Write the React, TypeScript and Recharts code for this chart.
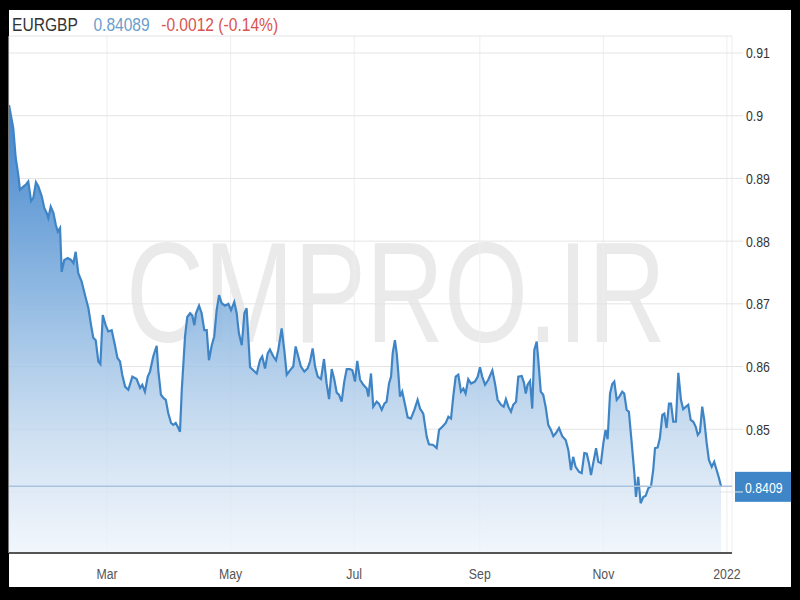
import React from "react";
import { ComposedChart, Area, XAxis, YAxis, CartesianGrid, ReferenceLine } from "recharts";

// Days since 2021-01-01
const dayOfYear = [
  10.6, 12.7, 13.9, 15.2, 16.0, 17.7, 18.9, 20.1, 21.5, 22.6,
  23.9, 25.1, 26.8, 28.0, 29.2, 30.0, 31.2, 32.5, 33.7, 34.7,
  35.8, 36.6, 37.9, 39.6, 41.2, 42.4, 43.5, 44.8, 46.5, 48.1,
  49.8, 51.1, 52.2, 53.4, 54.7, 55.7, 56.9, 58.3, 59.6, 61.3,
  62.9, 64.1, 65.4, 66.5, 67.9, 69.5, 71.5, 73.6, 75.3, 76.4,
  77.7, 79.1, 80.2, 81.8, 83.5, 84.3, 85.6, 86.8, 88.0, 89.2,
  90.6, 91.7, 92.9, 94.2, 95.0, 95.9, 97.5, 98.6, 100.0, 101.1,
  102.1, 102.9, 104.4, 105.7, 107.0, 108.2, 109.3, 110.7, 111.9, 113.1,
  114.3, 115.6, 117.2, 118.9, 120.2, 121.8, 123.0, 124.1, 125.5, 126.8,
  127.9, 129.6, 131.2, 132.9, 134.5, 135.6, 137.0, 138.3, 139.4, 141.1,
  142.4, 143.5, 145.2, 146.5, 147.7, 149.3, 150.9, 152.1, 153.4, 154.7,
  156.4, 158.0, 159.2, 160.5, 161.7, 163.0, 164.6, 166.1, 167.4, 168.6,
  169.9, 171.2, 172.4, 173.5, 174.8, 176.1, 177.3, 178.9, 180.1, 181.4,
  182.5, 183.9, 185.5, 187.2, 188.0, 189.3, 190.4, 192.1, 193.2, 194.6,
  195.9, 197.0, 198.2, 199.2, 200.0, 201.1, 202.0, 202.8, 203.6, 204.7,
  206.1, 207.4, 209.0, 210.7, 212.3, 213.5, 215.1, 216.8, 217.9, 220.0,
  221.7, 222.9, 224.5, 226.2, 227.5, 228.8, 229.9, 231.1, 232.4, 233.7,
  234.9, 236.0, 237.3, 238.7, 240.6, 242.0, 243.1, 244.2, 245.6, 247.2,
  249.2, 250.5, 251.8, 253.5, 254.8, 255.9, 257.1, 258.4, 259.5, 260.9,
  262.0, 263.7, 264.8, 265.7, 266.6, 267.8, 268.9, 269.9, 271.1, 271.9,
  273.1, 274.3, 275.5, 276.8, 278.1, 279.3, 280.6, 282.1, 283.7, 285.4,
  286.7, 288.0, 289.1, 290.3, 292.0, 293.3, 294.6, 295.8, 296.9, 297.9,
  299.0, 300.4, 301.5, 302.8, 304.0, 305.1, 306.1, 307.3, 308.4, 309.4,
  310.6, 311.9, 313.3, 314.3, 315.5, 316.6, 318.0, 319.3, 320.1, 321.2,
  322.4, 323.7, 324.9, 326.2, 327.5, 328.6, 329.5, 330.8, 331.9, 333.1,
  334.1, 335.2, 336.4, 337.4, 338.5, 339.8, 341.0, 342.3, 343.4, 344.8,
  345.9, 347.1, 348.4, 349.6, 350.6, 351.7, 352.8, 353.8, 355.0, 356.1,
  357.5, 358.7, 359.9, 361.1, 362.1,
];

const eurgbpRate = [
  0.9017, 0.8980, 0.8933, 0.8905, 0.8882, 0.8887, 0.8890, 0.8895, 0.8864, 0.8869,
  0.8894, 0.8887, 0.8871, 0.8853, 0.8845, 0.8837, 0.8855, 0.8845, 0.8826, 0.8815,
  0.8821, 0.8751, 0.8770, 0.8773, 0.8770, 0.8765, 0.8783, 0.8749, 0.8735, 0.8714,
  0.8693, 0.8666, 0.8646, 0.8642, 0.8608, 0.8604, 0.8682, 0.8666, 0.8656, 0.8658,
  0.8634, 0.8614, 0.8608, 0.8587, 0.8568, 0.8563, 0.8584, 0.8580, 0.8566, 0.8571,
  0.8560, 0.8584, 0.8592, 0.8616, 0.8633, 0.8594, 0.8555, 0.8550, 0.8547, 0.8526,
  0.8510, 0.8507, 0.8510, 0.8502, 0.8496, 0.8563, 0.8648, 0.8679, 0.8685, 0.8681,
  0.8666, 0.8685, 0.8697, 0.8685, 0.8658, 0.8658, 0.8610, 0.8634, 0.8648, 0.8690,
  0.8714, 0.8701, 0.8697, 0.8700, 0.8690, 0.8703, 0.8685, 0.8653, 0.8634, 0.8685,
  0.8693, 0.8599, 0.8594, 0.8589, 0.8610, 0.8616, 0.8597, 0.8621, 0.8627, 0.8616,
  0.8610, 0.8626, 0.8661, 0.8626, 0.8587, 0.8594, 0.8600, 0.8632, 0.8616, 0.8600,
  0.8592, 0.8597, 0.8608, 0.8629, 0.8600, 0.8584, 0.8580, 0.8612, 0.8573, 0.8548,
  0.8596, 0.8579, 0.8558, 0.8555, 0.8544, 0.8576, 0.8596, 0.8596, 0.8594, 0.8576,
  0.8609, 0.8579, 0.8571, 0.8565, 0.8552, 0.8589, 0.8536, 0.8544, 0.8541, 0.8531,
  0.8541, 0.8544, 0.8573, 0.8584, 0.8621, 0.8642, 0.8621, 0.8589, 0.8552, 0.8560,
  0.8539, 0.8519, 0.8517, 0.8531, 0.8547, 0.8533, 0.8525, 0.8488, 0.8476, 0.8475,
  0.8470, 0.8499, 0.8504, 0.8510, 0.8520, 0.8517, 0.8552, 0.8584, 0.8587, 0.8560,
  0.8565, 0.8557, 0.8580, 0.8573, 0.8576, 0.8584, 0.8599, 0.8584, 0.8571, 0.8579,
  0.8594, 0.8573, 0.8547, 0.8539, 0.8536, 0.8548, 0.8536, 0.8528, 0.8539, 0.8544,
  0.8584, 0.8585, 0.8574, 0.8557, 0.8571, 0.8577, 0.8533, 0.8626, 0.8640, 0.8610,
  0.8560, 0.8555, 0.8536, 0.8507, 0.8499, 0.8489, 0.8494, 0.8502, 0.8489, 0.8483,
  0.8467, 0.8435, 0.8456, 0.8440, 0.8432, 0.8430, 0.8462, 0.8461, 0.8446, 0.8427,
  0.8446, 0.8470, 0.8448, 0.8446, 0.8478, 0.8499, 0.8484, 0.8557, 0.8572, 0.8576,
  0.8547, 0.8552, 0.8560, 0.8557, 0.8531, 0.8528, 0.8478, 0.8430, 0.8392, 0.8424,
  0.8382, 0.8392, 0.8394, 0.8406, 0.8409, 0.8435, 0.8470, 0.8471, 0.8486, 0.8523,
  0.8525, 0.8502, 0.8541, 0.8541, 0.8512, 0.8512, 0.8590, 0.8547, 0.8532, 0.8536,
  0.8539, 0.8515, 0.8512, 0.8504, 0.8491, 0.8496, 0.8536, 0.8515, 0.8478, 0.8451,
  0.8440, 0.8448, 0.8435, 0.8422, 0.8409,
];

const monthTickDays = [59, 120, 181, 243, 304, 365];
const monthTickLabels = ["Mar", "May", "Jul", "Sep", "Nov", "2022"];
const rateTicks = [0.84, 0.85, 0.86, 0.87, 0.88, 0.89, 0.9, 0.91];
const hiddenRateLabels = [0.84];

const symbolName = "EURGBP";
const lastQuote = "0.84089";
const changeText = "-0.0012 (-0.14%)";
const lastPrice = 0.8409;
const watermarkText = "CMPRO.IR";

const data = dayOfYear.map((d, i) => ({ day: d, rate: eurgbpRate[i] }));

const FONT = '"Liberation Sans", Arial, sans-serif';
const SQUEEZE = 0.82;

const MonthTick = (props: any) => {
  const { x, y, payload } = props;
  const label = monthTickLabels[monthTickDays.indexOf(payload.value)] ?? "";
  return (
    <text
      transform={`translate(${x},${y}) scale(${SQUEEZE},1)`}
      textAnchor="middle"
      dy="0.71em"
      fill="#555"
      fontSize={15}
      fontFamily={FONT}
    >
      {label}
    </text>
  );
};

const RateTick = (props: any) => {
  const { x, y, payload } = props;
  const label = hiddenRateLabels.includes(payload.value) ? "" : String(payload.value);
  return (
    <text
      transform={`translate(${x},${y}) scale(${SQUEEZE},1)`}
      textAnchor="start"
      dy="0.36em"
      fill="#333"
      fontSize={15}
      fontFamily={FONT}
    >
      {label}
    </text>
  );
};

const PriceTag = (props: any) => {
  const vb = props.viewBox || {};
  const x = vb.x + vb.width + 3;
  const y = vb.y;
  return (
    <g>
      <rect x={x} y={y - 14.5} width={56} height={30} fill="#3f86c8" />
      <text
        transform={`translate(${x + 10},${y + 1}) scale(${SQUEEZE},1)`}
        dy="0.36em"
        fill="#ffffff"
        fontSize={15}
        fontFamily={FONT}
      >
        {lastPrice.toFixed(4)}
      </text>
    </g>
  );
};

export default function App() {
  return (
    <div style={{ position: "absolute", left: 0, top: 0, width: 800, height: 600, background: "#000", overflow: "hidden" }}>
      <div style={{ position: "absolute", left: 9, top: 10, width: 782, height: 577, background: "#fff" }} />
      <svg width={800} height={600} style={{ position: "absolute", left: 0, top: 0 }}>
        <text
          transform="translate(396,342) scale(1,1.32)"
          textAnchor="middle"
          fontSize={108}
          fontFamily={FONT}
          fill="#eaeaea"
        >
          {watermarkText}
        </text>
      </svg>
      <div
        style={{
          position: "absolute",
          left: 12,
          top: 13,
          fontFamily: FONT,
          fontSize: 19,
          lineHeight: "24px",
          whiteSpace: "pre",
          transform: `scaleX(${SQUEEZE})`,
          transformOrigin: "0 0",
        }}
      >
        <span style={{ color: "#333" }}>{symbolName}</span>
        <span style={{ color: "#6a9dcc", marginLeft: 19 }}>{lastQuote}</span>
        <span style={{ color: "#d9534f", marginLeft: 14 }}>{changeText}</span>
      </div>
      <div style={{ position: "absolute", left: 0, top: 0 }}>
        <ComposedChart width={800} height={600} data={data} margin={{ top: 36, right: 8, bottom: 17, left: 9 }}>
          <defs>
            <linearGradient id="eurgbpFill" x1="0" y1="0" x2="0" y2="1">
              <stop offset="0%" stopColor="#3f82cc" stopOpacity={1} />
              <stop offset="40%" stopColor="#80afde" stopOpacity={0.9} />
              <stop offset="75%" stopColor="#c5daef" stopOpacity={0.82} />
              <stop offset="100%" stopColor="#eef4fb" stopOpacity={0.78} />
            </linearGradient>
          </defs>
          <CartesianGrid horizontal={false} vertical={true} stroke="#eeeeee" />
          <CartesianGrid horizontal={true} vertical={false} stroke="#e4e4e4" />
          <XAxis
            dataKey="day"
            type="number"
            domain={[10.6, 367.5]}
            allowDataOverflow
            ticks={monthTickDays}
            axisLine={{ stroke: "#555", strokeWidth: 2 }}
            tickLine={false}
            tickSize={8}
            tickMargin={7}
            height={30}
            tick={<MonthTick />}
          />
          <YAxis
            orientation="right"
            type="number"
            domain={[0.83027, 0.91271]}
            allowDataOverflow
            ticks={rateTicks}
            axisLine={false}
            tickLine={{ stroke: "#e4e4e4" }}
            tickSize={11}
            tickMargin={3}
            width={60}
            tick={<RateTick />}
          />
          <Area
            type="linear"
            dataKey="rate"
            stroke="#3f85c6"
            strokeWidth={2.2}
            fill="url(#eurgbpFill)"
            fillOpacity={1}
            isAnimationActive={false}
            dot={false}
            activeDot={false}
          />
          <ReferenceLine y={lastPrice} stroke="#a9c3de" strokeWidth={1.5} label={<PriceTag />} />
        </ComposedChart>
      </div>
    </div>
  );
}
